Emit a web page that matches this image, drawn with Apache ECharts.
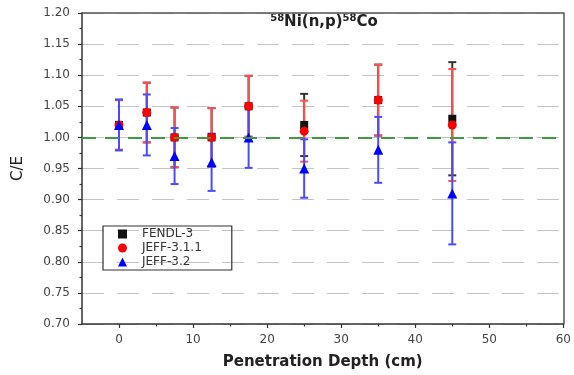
<!DOCTYPE html>
<html>
<head>
<meta charset="utf-8">
<script src="https://cdn.jsdelivr.net/npm/echarts@6/dist/echarts.min.js"></script>
<style>
  html, body { margin: 0; padding: 0; background: #fff; }
  #chart { width: 574px; height: 375px; }
</style>
</head>
<body>
<div id="chart"></div>
<script>
// Measurement positions along the penetration depth (cm)
const depth = [0, 3.75, 7.5, 12.5, 17.5, 25, 35, 45];

// C/E ratios and their uncertainties for each library
const fendl = [1.02, 1.04, 1.00, 1.00, 1.05, 1.02, 1.06, 1.03];
const fendlErr = [0.04, 0.048, 0.048, 0.047, 0.049, 0.05, 0.057, 0.091];
const jeff311 = [1.02, 1.04, 1.00, 1.00, 1.05, 1.01, 1.06, 1.02];
const jeff311Err = [0.04, 0.048, 0.048, 0.047, 0.049, 0.049, 0.057, 0.09];
const jeff32 = [1.02, 1.02, 0.97, 0.96, 1.00, 0.95, 0.98, 0.91];
const jeff32Err = [0.041, 0.049, 0.045, 0.046, 0.049, 0.047, 0.053, 0.082];

const seriesNames = ['FENDL-3', 'JEFF-3.1.1', 'JEFF-3.2'];
const xMajorTicks = [0, 10, 20, 30, 40, 50, 60];
const xMinorTicks = [5, 15, 25, 35, 45, 55];
const unityLine = 1.0;

const FONT = 'DejaVu Sans';
const AXIS_COLOR = '#333';

function errorBars(name, vals, errs, color) {
  return {
    type: 'custom',
    name: name,
    data: depth.map((x, i) => [x, vals[i] - errs[i], vals[i] + errs[i]]),
    encode: { x: 0, y: [1, 2] },
    silent: true,
    renderItem: function (params, api) {
      const x = api.value(0);
      const lo = api.coord([x, api.value(1)]);
      const hi = api.coord([x, api.value(2)]);
      const cap = 4;
      const style = { stroke: color, lineWidth: 2 };
      return {
        type: 'group',
        children: [
          { type: 'line', shape: { x1: lo[0], y1: lo[1], x2: hi[0], y2: hi[1] }, style: style },
          { type: 'line', shape: { x1: lo[0] - cap, y1: lo[1], x2: lo[0] + cap, y2: lo[1] }, style: style },
          { type: 'line', shape: { x1: hi[0] - cap, y1: hi[1], x2: hi[0] + cap, y2: hi[1] }, style: style }
        ]
      };
    }
  };
}

function markers(name, vals, symbol, size, color) {
  return {
    type: 'scatter',
    name: name,
    data: depth.map((x, i) => [x, vals[i]]),
    symbol: symbol,
    symbolSize: size,
    itemStyle: { color: color, opacity: 1 }
  };
}

// A bare axis used only to close the frame on the top or right side
function frameAxis(pos, min, max) {
  return {
    type: 'value', position: pos, min: min, max: max,
    axisLine: { show: true, onZero: false, lineStyle: { color: '#555', width: 1.5 } },
    axisTick: { show: false }, axisLabel: { show: false }, splitLine: { show: false }
  };
}

const chart = echarts.init(document.getElementById('chart'), null, { renderer: 'canvas' });

chart.setOption({
  animation: false,
  backgroundColor: '#fff',
  textStyle: { fontFamily: FONT },
  grid: { left: 82, right: 8, top: 13, bottom: 51 },
  graphic: [{
    type: 'text',
    x: 324, y: 22,
    style: {
      text: '{s|58}{m|Ni(n,p)}{s|58}{m|Co}',
      align: 'center',
      verticalAlign: 'middle',
      rich: {
        s: { fontFamily: FONT, fontWeight: 'bold', fontSize: 10, fill: '#222', padding: [0, 0, 7, 0] },
        m: { fontFamily: FONT, fontWeight: 'bold', fontSize: 15, fill: '#222' }
      }
    }
  }],
  legend: {
    data: [
      { name: seriesNames[0], icon: 'rect' },
      { name: seriesNames[1], icon: 'circle' },
      { name: seriesNames[2], icon: 'triangle' }
    ],
    orient: 'vertical',
    left: 103, top: 226,
    padding: [2, 30, 2, 15],
    itemWidth: 9, itemHeight: 9, itemGap: 2,
    borderColor: '#333', borderWidth: 1.2,
    textStyle: { fontFamily: FONT, fontSize: 12, color: '#333', padding: [0, 0, 0, 10] }
  },
  xAxis: [{
    type: 'value',
    min: -5, max: 60,
    name: 'Penetration Depth (cm)',
    nameLocation: 'middle',
    nameGap: 31,
    nameTextStyle: { fontFamily: FONT, fontSize: 15, fontWeight: 'bold', color: '#222' },
    axisLine: { show: true, onZero: false, lineStyle: { color: AXIS_COLOR, width: 1.5 } },
    axisTick: { show: true, customValues: xMajorTicks, length: 4, lineStyle: { color: AXIS_COLOR, width: 1.2 } },
    axisLabel: { customValues: xMajorTicks, margin: 10, fontFamily: FONT, fontSize: 12, color: '#444' },
    splitLine: { show: false }
  }, {
    type: 'value',
    min: -5, max: 60,
    position: 'bottom',
    axisLine: { show: false, onZero: false },
    axisTick: { show: true, customValues: xMinorTicks, length: 2.5, lineStyle: { color: AXIS_COLOR, width: 1.2 } },
    axisLabel: { show: false },
    splitLine: { show: false }
  }, frameAxis('top', -5, 60)],
  yAxis: [{
    type: 'value',
    min: 0.7, max: 1.2, interval: 0.05,
    name: 'C/E',
    nameLocation: 'middle',
    nameGap: 56,
    nameTextStyle: { fontFamily: FONT, fontSize: 15, color: '#222' },
    axisLine: { show: true, onZero: false, lineStyle: { color: AXIS_COLOR, width: 1.5 } },
    axisTick: { show: true, length: 4, lineStyle: { color: AXIS_COLOR, width: 1.2 } },
    minorTick: { show: true, splitNumber: 2, length: 2.5, lineStyle: { color: AXIS_COLOR, width: 1.2 } },
    axisLabel: {
      margin: 12, fontFamily: FONT, fontSize: 12, color: '#444',
      formatter: v => v.toFixed(2)
    },
    splitLine: { show: true, lineStyle: { color: '#c4c4c4', width: 1, type: [22, 13] } }
  }, frameAxis('right', 0.7, 1.2)],
  series: [
    errorBars('FENDL-3 uncertainty', fendl, fendlErr, '#333'),
    Object.assign(markers(seriesNames[0], fendl, 'rect', 8, '#111'), {
      markLine: {
        silent: true,
        symbol: 'none',
        label: { show: false },
        lineStyle: { color: '#3e9b3e', width: 2, type: [14, 9] },
        data: [{ yAxis: unityLine }]
      }
    }),
    errorBars('JEFF-3.1.1 uncertainty', jeff311, jeff311Err, '#ff5050'),
    markers(seriesNames[1], jeff311, 'circle', 9, '#ff0000'),
    errorBars('JEFF-3.2 uncertainty', jeff32, jeff32Err, '#4a4aff'),
    markers(seriesNames[2], jeff32, 'triangle', 10, '#0000ff')
  ]
});
</script>
</body>
</html>
